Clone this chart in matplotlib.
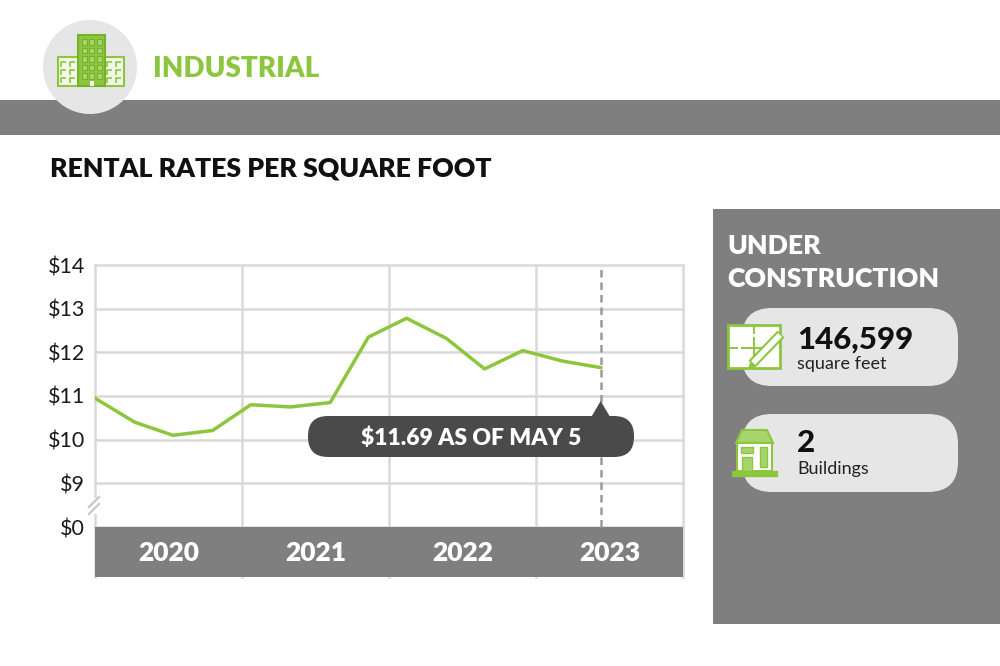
"""
Industrial rental rates per square foot, with an under-construction panel
"""

import matplotlib
matplotlib.use("Agg")
import matplotlib.pyplot as plt
from matplotlib.patches import Rectangle, FancyBboxPatch, Polygon, Circle

# ---- data -------------------------------------------------------------
years = [2020.00, 2020.27, 2020.53, 2020.80, 2021.06, 2021.33, 2021.60,
         2021.86, 2022.12, 2022.39, 2022.65, 2022.91, 2023.18, 2023.44]
rates = [10.95, 10.40, 10.10, 10.21, 10.80, 10.75, 10.85,
         12.35, 12.78, 12.32, 11.62, 12.04, 11.80, 11.65]
year_labels = [2020, 2021, 2022, 2023]
ytick_values = [8, 9, 10, 11, 12, 13, 14]          # 8 stands in for the $0 break
ytick_labels = ["$0", "$9", "$10", "$11", "$12", "$13", "$14"]
latest_label = "$11.69 AS OF MAY 5"
sector = "INDUSTRIAL"
chart_title = "RENTAL RATES PER SQUARE FOOT"
panel_title = ["UNDER", "CONSTRUCTION"]
sq_feet = "146,599"
buildings = "2"

# ---- colours ----------------------------------------------------------
GREEN = "#8cc63f"
DARK_GREEN = "#76b02c"
PALE_GREEN = "#f1f8e8"
BAND = "#7f7f7f"
LIGHT = "#e6e6e6"
GRID = "#d9d9d9"
CALLOUT = "#4a4a4a"

plt.rcParams["font.family"] = ["Lato", "DejaVu Sans"]
HEAD = "heavy"

W, H = 1000, 666
fig = plt.figure(figsize=(W / 100, H / 100), dpi=100)

# background axes in pixel coordinates (y goes down)
bg = fig.add_axes([0, 0, 1, 1], zorder=0)
bg.set_xlim(0, W)
bg.set_ylim(H, 0)
bg.axis("off")

# header band and circle
bg.add_patch(Rectangle((0, 100), W, 35, fc=BAND, ec="none"))
bg.add_patch(Circle((90, 67), 47, fc=LIGHT, ec="none", zorder=2))

# building icon
bg.add_patch(Rectangle((58, 57), 21, 29, fc=PALE_GREEN, ec=GREEN, lw=1.5, zorder=3))
bg.add_patch(Rectangle((104, 57), 20, 29, fc=PALE_GREEN, ec=GREEN, lw=1.5, zorder=3))
bg.add_patch(Rectangle((78, 35), 27, 51, fc=GREEN, ec=DARK_GREEN, lw=1.5, zorder=4))
for col in range(3):
    for row in range(5):
        bg.add_patch(Rectangle((81.5 + col * 7.5, 39 + row * 8.5), 5, 5.5,
                               fc="#a8d46e", ec=DARK_GREEN, lw=0.8, zorder=5))
bg.add_patch(Rectangle((89.5, 81), 4, 5, fc=PALE_GREEN, ec="none", zorder=5))
for x0 in (61, 70, 107, 116):
    for row in range(3):
        y0 = 62 + row * 8
        bg.plot([x0, x0, x0 + 5], [y0 + 5, y0, y0], color=GREEN, lw=1.2,
                solid_capstyle="butt", zorder=5)

bg.text(153, 77, sector, color=GREEN, fontsize=20, fontweight=HEAD,
        va="baseline", ha="left")
bg.text(50, 177, chart_title, color="#111111", fontsize=19.2, fontweight=HEAD,
        va="baseline", ha="left")

# right panel
bg.add_patch(Rectangle((713, 209), W - 713, 415, fc=BAND, ec="none"))
bg.text(727, 254, panel_title[0], color="white", fontsize=19.2, fontweight=HEAD,
        va="baseline")
bg.text(727, 287, panel_title[1], color="white", fontsize=19.2, fontweight=HEAD,
        va="baseline")
for top in (308, 414):
    bg.add_patch(FancyBboxPatch((742, top), 216, 78,
                                boxstyle="round,pad=0,rounding_size=30",
                                fc=LIGHT, ec="none"))

# blueprint icon
bg.add_patch(Rectangle((728, 325), 52, 43, fc="white", ec=GREEN, lw=2, zorder=3))
for seg in ([(754, 754), (325, 333)], [(754, 754), (338, 348)],
            [(728, 737), (348, 348)], [(742, 765), (348, 348)],
            [(754, 754), (348, 368)]):
    bg.plot(seg[0], seg[1], color=GREEN, lw=1.4, zorder=4)
bg.plot([752, 781], [364, 334], color=GREEN, lw=7, solid_capstyle="butt", zorder=5)
bg.plot([753, 780], [363, 335], color="white", lw=4, solid_capstyle="butt", zorder=6)
bg.add_patch(Polygon([(749, 368), (751, 362), (755, 366)], fc=GREEN, ec=GREEN,
                     lw=1, zorder=6))

# house icon
bg.add_patch(Polygon([(736, 443), (773, 443), (767, 430), (742, 430)],
                     fc="#a8d46e", ec=GREEN, lw=1.5, zorder=3))
bg.add_patch(Rectangle((737, 443), 35, 28, fc="white", ec=GREEN, lw=1.5, zorder=3))
bg.add_patch(Rectangle((741, 447), 12, 6, fc="#a8d46e", ec=GREEN, lw=1, zorder=4))
bg.add_patch(Rectangle((742, 457), 10, 14, fc="#a8d46e", ec=GREEN, lw=1, zorder=4))
bg.add_patch(Rectangle((760, 447), 7, 20, fc="#a8d46e", ec=GREEN, lw=1, zorder=4))
bg.add_patch(Rectangle((732, 471), 45, 5, fc=GREEN, ec=GREEN, lw=1, zorder=4))

bg.text(797, 349, sq_feet, color="#111111", fontsize=22.5, fontweight="black",
        va="baseline")
bg.text(797, 369, "square feet", color="#222222", fontsize=13, va="baseline")
bg.text(797, 452, buildings, color="#111111", fontsize=22.5, fontweight="black",
        va="baseline")
bg.text(797, 474, "Buildings", color="#222222", fontsize=13, va="baseline")

# ---- chart ------------------------------------------------------------
px_per_unit = (527 - 265) / 6.0
y_bottom = 14 - (577 - 265) / px_per_unit
ax = fig.add_axes([95 / W, 1 - 577 / H, 588 / W, (577 - 265) / H], zorder=1)
ax.set_xlim(2020, 2024)
ax.set_ylim(y_bottom, 14)
ax.set_axisbelow(True)
for s in ax.spines.values():
    s.set_visible(False)

ax.set_xticks(year_labels + [2024])
ax.set_xticklabels([])
ax.set_yticks(ytick_values)
ax.set_yticklabels([t.replace("$", r"\$") for t in ytick_labels],
                   fontsize=15.5, color="#1a1a1a")
ax.tick_params(length=0, pad=7)
ax.grid(True, color=GRID, lw=1.8)
for gl in ax.get_xgridlines() + ax.get_ygridlines():
    gl.set_clip_on(False)

ax.axhspan(y_bottom, 8, color=BAND, lw=0, zorder=1)
for yr in year_labels:
    ax.text(yr + 0.5, 8 - 0.78, str(yr), color="white", fontsize=19,
            fontweight=HEAD, ha="center", va="baseline", zorder=3)

ax.vlines(years[-1], 8, 14, colors="#9a9a9a", lw=1.8,
          linestyles=(0, (3, 2)), zorder=2)
ax.plot(years, rates, color=GREEN, lw=2.5, zorder=4, solid_joinstyle="round")

# ---- overlay: axis break and callout -----------------------------------
top = fig.add_axes([0, 0, 1, 1], zorder=3)
top.set_xlim(0, W)
top.set_ylim(H, 0)
top.axis("off")
top.patch.set_alpha(0)

top.add_patch(Rectangle((92, 498), 7, 16, fc="white", ec="none"))
top.plot([89, 99], [507, 497], color="#c8c8c8", lw=1.6)
top.plot([89, 99], [514, 504], color="#c8c8c8", lw=1.6)

tip_x = top.transData.inverted().transform(
    ax.transData.transform((years[-1], 11)))[0]
top.add_patch(FancyBboxPatch((308, 416), 326, 41,
                             boxstyle="round,pad=0,rounding_size=20",
                             fc=CALLOUT, ec="none"))
top.add_patch(Polygon([(tip_x - 10, 418), (tip_x, 401), (tip_x + 10, 418)],
                      fc=CALLOUT, ec="none"))
top.text(471, 445, latest_label.replace("$", r"\$"), color="white", fontsize=16.5,
         fontweight=HEAD, ha="center", va="baseline")

fig.savefig("out.png", dpi=100)
